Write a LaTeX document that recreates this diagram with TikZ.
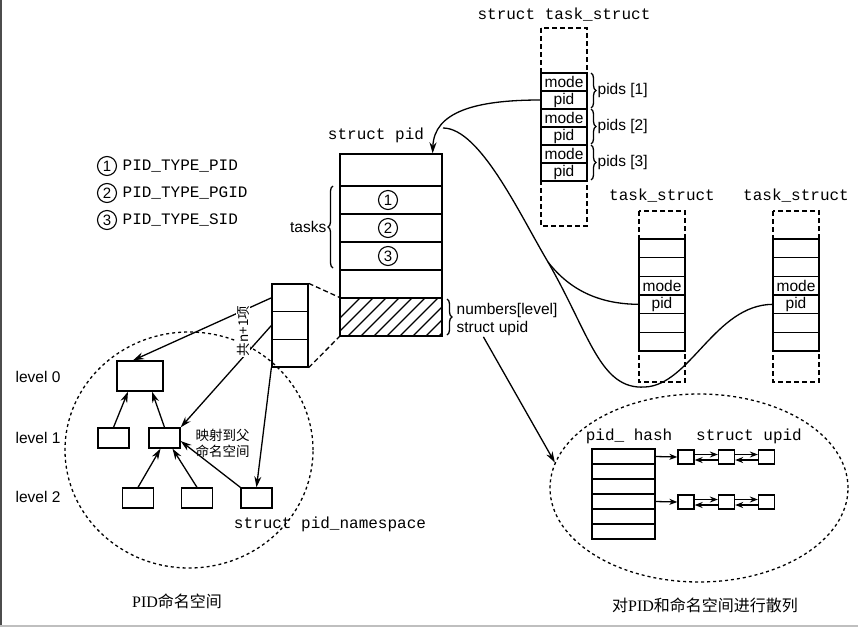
\documentclass[tikz,border=0pt]{standalone}
\usepackage{fontspec}
\setmainfont{Liberation Sans}
\newfontfamily\cjk{Noto Sans CJK SC}
\newfontfamily\monof{Liberation Mono}
\newfontfamily\seriff{Liberation Serif}
\usetikzlibrary{arrows.meta,shapes.geometric,decorations.pathreplacing}

\begin{document}
\begin{tikzpicture}[x=1pt,y=-1pt,line width=1.3pt,
    cell/.style={draw,minimum width=46,minimum height=18,inner sep=0,font=\fontsize{15.5}{15.5}\selectfont},
    tcell/.style={cell,minimum height=18.67},
    pcell/.style={draw,minimum width=102,inner sep=0},
    dashbox/.style={dash pattern=on 5pt off 3pt},
    nsdash/.style={draw,dash pattern=on 3pt off 3pt},
    mono/.style={font=\monof\fontsize{16}{16}\selectfont,inner sep=1pt},
    lbl/.style={font=\fontsize{15.5}{15.5}\selectfont,inner sep=1pt},
    cjkl/.style={font=\cjk\fontsize{13.5}{16}\selectfont,inner sep=1pt},
    cnum/.style={draw,circle,inner sep=0,minimum size=19,line width=1.1pt,font=\fontsize{15}{15}\selectfont},
    nsbox/.style={draw,minimum width=31,minimum height=20,inner sep=0},
    link/.style={draw,minimum width=16,minimum height=14,inner sep=0},
    brace/.style={decorate,decoration={brace,amplitude=5pt}},
    arr/.style={-{Stealth[length=11pt,width=7pt]}},
    sarr/.style={-{Stealth[length=8pt,width=6pt]}}]
  \useasboundingbox (0,0) rectangle (858,627);
  \draw[line width=2pt,black!70] (1,0) -- (1,627);
  \draw[line width=1.5pt,black!25] (0,626) -- (858,626);

  % task_struct with the pids array
  \node[mono] (ttitle) at (564,15) {struct task\_struct};
  \draw[dashbox] (541,28) rectangle (587,226);
  \foreach \i in {1,2,3} {
    \node[cell] (tmode\i) at (564,46+36*\i) {mode};
    \node[cell] (tpid\i) at (564,64+36*\i) {pid};
    \draw[brace] (591,37+36*\i) -- (591,72+36*\i) node[midway,right=5pt,lbl] {pids [\i]};
  }

  % struct pid
  \node[mono] (pidtitle) at (376,135) {struct pid};
  \node[pcell,minimum height=32] (pidtop) at (391,170) {};
  \node[pcell,minimum height=28] (ptask1) at (391,200) {};
  \node[pcell,minimum height=28] (ptask2) at (391,228) {};
  \node[pcell,minimum height=28] (ptask3) at (391,256) {};
  \node[pcell,minimum height=28] (pblank) at (391,284) {};
  \begin{scope}
    \clip (340,298) rectangle (442,336);
    \foreach \k in {0,...,9} \draw (322+13*\k,336) -- ++(48,-48);
  \end{scope}
  \node[pcell,minimum height=38] (pnum) at (391,317) {};
  \foreach \i in {1,2,3} \node[cnum] (pc\i) at (388,172+28*\i) {\i};
  \draw[brace] (333,268) -- (333,186) node[midway,left=5pt,lbl] {tasks};
  \draw[brace] (447,299) -- (447,335);
  \node[lbl,anchor=west] (numlbl) at (455,310) {numbers[level]};
  \node[lbl,anchor=west] (upidlbl) at (455,328) {struct upid};

  % legend
  \foreach \i/\t in {1/PID,2/PGID,3/SID} {
    \node[cnum] (leg\i) at (107,139+27*\i) {\i};
    \node[mono,anchor=west] (legt\i) at (121,139+27*\i) {PID\_TYPE\_\t};
  }

  % the other two task_structs
  \foreach \n/\x in {2/662,3/796} {
    \node[mono] (t\n title) at (\x,196) {task\_struct};
    \draw[dashbox] (\x-23,211) rectangle (\x+23,382);
    \foreach \k/\t in {1/{},2/{},3/mode,4/pid,5/{},6/{}}
      \node[tcell] (t\n c\k) at (\x,229.67+18.67*\k) {\t};
  }

  % links between task_structs and struct pid
  \coordinate (fork) at (443,128);
  \draw[arr] (tpid1.west) .. controls (475,100) and (434,112) .. ([xshift=-10pt]pidtop.north east);
  \draw (fork) .. controls (480,128) and (520,215) .. (548,262) coordinate (split);
  \draw (split) .. controls (575,297) and (610,304) .. (t2c4.west);
  \draw (split) .. controls (590,335) and (600,390) .. (645,387) .. controls (690,385) and (715,305) .. (t3c4.west);

  % numbers array and pid namespaces
  \node[nsdash,ellipse,minimum width=248,minimum height=236] (pidns) at (189,450) {};
  \foreach \i in {1,2,3} \node[draw,minimum width=36,minimum height=27.67,inner sep=0] (arr\i) at (290,270.17+27.67*\i) {};
  \draw[dashbox] (arr1.north east) -- (pnum.north west);
  \draw[dashbox] (arr3.south east) -- (pnum.south west);

  \node[draw,minimum width=46,minimum height=30,inner sep=0] (l0) at (140,376) {};
  \node[nsbox] (l1a) at (113.5,438) {};
  \node[nsbox] (l1b) at (164.5,438) {};
  \node[nsbox] (l2a) at (138,498) {};
  \node[nsbox] (l2b) at (197,498) {};
  \node[nsbox] (l2c) at (256.5,498) {};
  \node[lbl,anchor=west] (lv0) at (14,377) {level 0};
  \node[lbl,anchor=west] (lv1) at (14,438) {level 1};
  \node[lbl,anchor=west] (lv2) at (14,497) {level 2};

  \draw[arr] (l1a.north) -- ([xshift=-12pt]l0.south);
  \draw[arr] (l1b.north) -- ([xshift=12pt]l0.south);
  \draw[arr] (l2a.north) -- ([xshift=-4pt]l1b.south);
  \draw[arr] (l2b.north) -- ([xshift=8pt]l1b.south);
  \draw[arr] (l2c.north west) -- ([yshift=-3pt]l1b.east);
  \draw[arr] (arr1.west) -- ([xshift=-7pt]l0.north);
  \draw[arr] (arr2.west) -- (l1b.north east);
  \draw[arr] (arr3.south west) -- (l2c.north);
  \node[cjkl,rotate=90,fill=white] (cnt) at (243,331) {共n+1项};
  \node[cjkl,anchor=west,align=left] (maplbl) at (194,443) {映射到父\\命名空间};
  \node[mono] (nslbl) at (330,524) {struct pid\_namespace};
  \node[font=\cjk\fontsize{16}{16}\selectfont] (nscap) at (177,601) {{\seriff PID}命名空间};

  % hashing
  \node[nsdash,ellipse,minimum width=298,minimum height=188] (hashns) at (699,488) {};
  \node[mono] (hashlbl) at (629,436) {pid\_ hash};
  \node[mono] (upidt) at (749,436) {struct upid};
  \foreach \r in {1,...,6} \node[draw,minimum width=63,minimum height=15,inner sep=0] (h\r) at (623.5,441.5+15*\r) {};
  \foreach \r/\y in {1/457,2/502} {
    \node[link] (c\r1) at (686,\y) {};
    \node[link] (c\r2) at (726.5,\y) {};
    \node[link] (c\r3) at (766.5,\y) {};
    \draw[sarr] ([yshift=2.5pt]c\r1.east) -- ([yshift=2.5pt]c\r2.west);
    \draw[sarr] ([yshift=-3pt]c\r2.west) -- ([yshift=-3pt]c\r1.east);
    \draw[sarr] ([yshift=2.5pt]c\r2.east) -- ([yshift=2.5pt]c\r3.west);
    \draw[sarr] ([yshift=-3pt]c\r3.west) -- ([yshift=-3pt]c\r2.east);
  }
  \draw[sarr] (h1.east) -- (c11.west);
  \draw[sarr] (h4.east) -- (c21.west);
  \draw[arr] ([xshift=-9pt]upidlbl.south) -- (hashns.170);
  \node[font=\cjk\fontsize{16}{16}\selectfont] (hashcap) at (705,605) {对{\seriff PID}和命名空间进行散列};
\end{tikzpicture}
\end{document}
